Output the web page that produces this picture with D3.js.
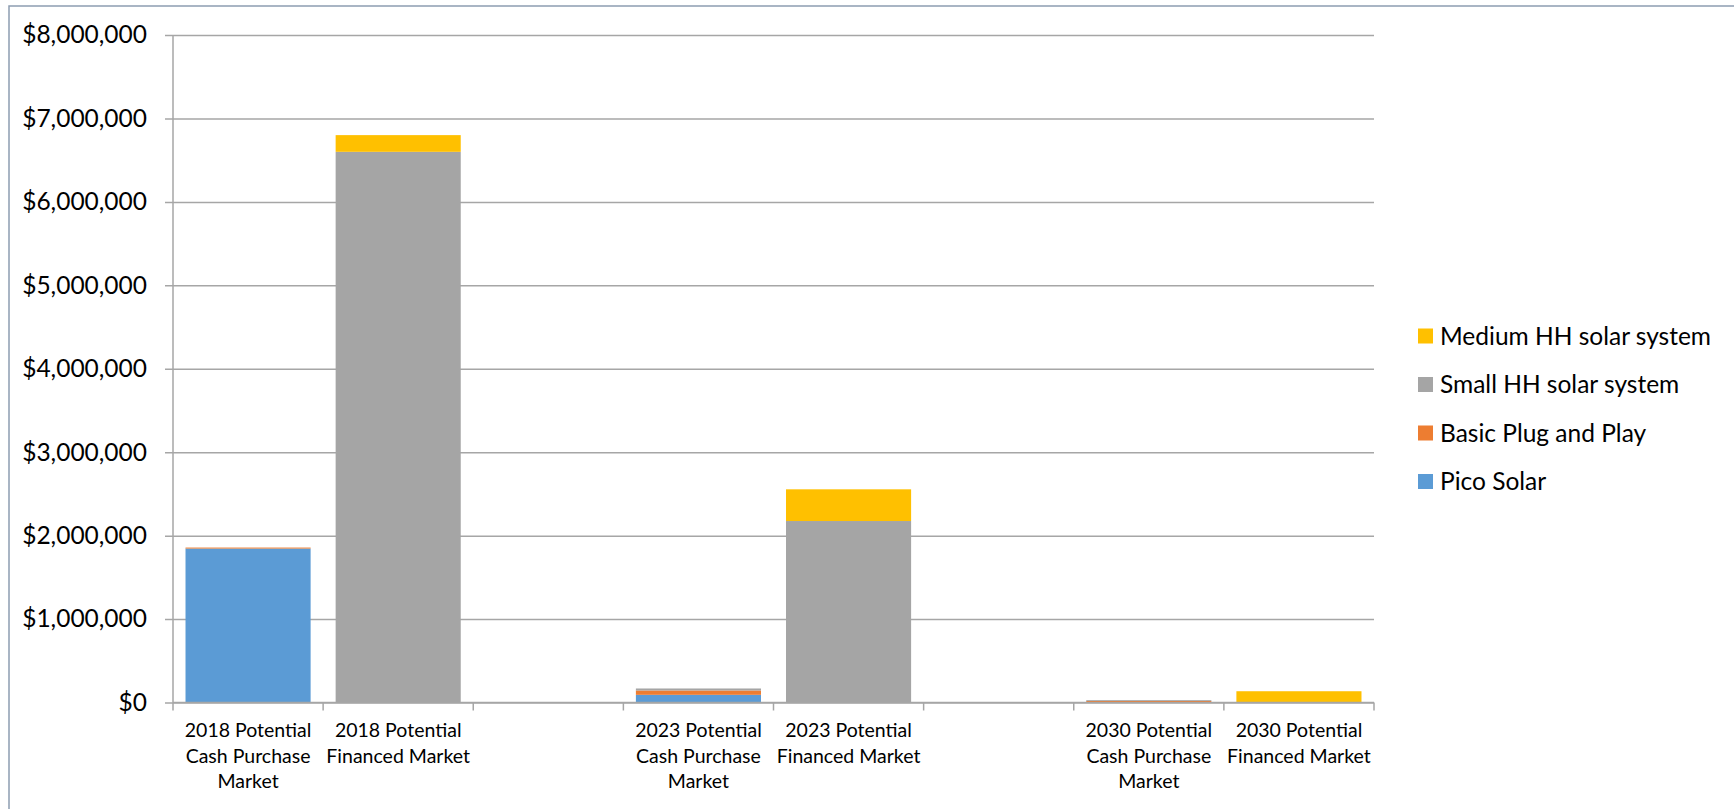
<!DOCTYPE html>
<html>
<head>
<meta charset="utf-8">
<script src="https://cdn.jsdelivr.net/npm/d3@7/dist/d3.min.js"></script>
<style>
  html, body { margin: 0; padding: 0; background: #ffffff; }
  svg { display: block; }
  text { font-family: Lato, "Open Sans", "Noto Sans", sans-serif; fill: #000; }
</style>
</head>
<body>
<svg id="chart" width="1734" height="809"></svg>
<script>
// Market categories (blank entries are spacer slots between years)
const categories = [
  "2018 Potential Cash Purchase Market",
  "2018 Potential Financed Market",
  "",
  "2023 Potential Cash Purchase Market",
  "2023 Potential Financed Market",
  "",
  "2030 Potential Cash Purchase Market",
  "2030 Potential Financed Market"
];
// Wrapped axis label lines per category
const categoryLines = [
  ["2018 Potential", "Cash Purchase", "Market"],
  ["2018 Potential", "Financed Market"],
  [],
  ["2023 Potential", "Cash Purchase", "Market"],
  ["2023 Potential", "Financed Market"],
  [],
  ["2030 Potential", "Cash Purchase", "Market"],
  ["2030 Potential", "Financed Market"]
];

// Market value (USD) per product tier
const picoSolar    = [1845000, 0,       0, 92000, 0,       0, 3000,  0];
const basicPlug    = [12000,   0,       0, 52000, 0,       0, 15000, 0];
const smallHH      = [0,       6600000, 0, 24000, 2175000, 0, 10000, 4000];
const mediumHH     = [0,       200000,  0, 0,     380000,  0, 0,     131000];

const seriesNames  = ["Pico Solar", "Basic Plug and Play", "Small HH solar system", "Medium HH solar system"];
const seriesColors = ["#5B9BD5", "#ED7D31", "#A5A5A5", "#FFC000"];

const yTicks = [0, 1000000, 2000000, 3000000, 4000000, 5000000, 6000000, 7000000, 8000000];

// Layout
const plotLeft = 173, plotRight = 1374, plotTop = 35, plotBottom = 702.5;
const gridColor = "#A6A6A6";

const svg = d3.select("#chart");

// Outer chart frame
svg.append("rect")
  .attr("x", 9).attr("y", 6)
  .attr("width", 1800).attr("height", 900)
  .attr("fill", "none")
  .attr("stroke", "#8D9DB1")
  .attr("stroke-width", 1.5);

const ids = categories.map((c, i) => "k" + i);
const x = d3.scaleBand().domain(ids).range([plotLeft, plotRight]).padding(0);
const y = d3.scaleLinear().domain([0, 8000000]).range([plotBottom, plotTop]);

// Gridlines + y tick labels
const yAxis = svg.append("g")
  .attr("transform", `translate(${plotLeft - 8},0)`)
  .call(d3.axisLeft(y)
    .tickValues(yTicks)
    .tickSize(-(plotRight - plotLeft + 8))
    .tickPadding(18)
    .tickFormat(d3.format("$,")));
yAxis.select(".domain").remove();
yAxis.selectAll(".tick line").attr("stroke", gridColor).attr("stroke-width", 1.5);
yAxis.selectAll(".tick text")
  .style("font-size", "24.5px")
  .attr("fill", "#000");

// Stacked bars
const rows = ids.map((id, i) => ({
  id,
  pico: picoSolar[i], basic: basicPlug[i], small: smallHH[i], medium: mediumHH[i]
}));
const keys = ["pico", "basic", "small", "medium"];
const stacked = d3.stack().keys(keys)(rows);

const barInset = x.bandwidth() * 12.5 / 150;
svg.append("g").selectAll("g")
  .data(stacked)
  .join("g")
  .attr("fill", (d, i) => seriesColors[i])
  .selectAll("rect")
  .data(d => d)
  .join("rect")
  .attr("x", d => x(d.data.id) + barInset)
  .attr("width", x.bandwidth() - 2 * barInset)
  .attr("y", d => y(d[1]))
  .attr("height", d => Math.max(0, y(d[0]) - y(d[1])));

// Vertical value axis line
svg.append("line")
  .attr("x1", plotLeft).attr("x2", plotLeft)
  .attr("y1", plotTop).attr("y2", plotBottom)
  .attr("stroke", gridColor).attr("stroke-width", 1.5);

// Category axis baseline and boundary ticks
svg.append("line")
  .attr("x1", plotLeft).attr("x2", plotRight)
  .attr("y1", plotBottom).attr("y2", plotBottom)
  .attr("stroke", gridColor).attr("stroke-width", 1.5);
const boundaries = ids.map(id => x(id)).concat([x.range()[1]]);
svg.append("g").selectAll("line")
  .data(boundaries)
  .join("line")
  .attr("x1", d => d).attr("x2", d => d)
  .attr("y1", plotBottom).attr("y2", plotBottom + 8)
  .attr("stroke", gridColor).attr("stroke-width", 1.5);

// Category labels
const xLabels = svg.append("g").selectAll("text")
  .data(ids)
  .join("text")
  .attr("x", d => x(d) + x.bandwidth() / 2)
  .attr("y", 737)
  .attr("text-anchor", "middle")
  .style("font-size", "19.5px");
xLabels.selectAll("tspan")
  .data((d, i) => categoryLines[i])
  .join("tspan")
  .attr("x", function() { return this.parentNode.getAttribute("x"); })
  .attr("dy", (d, i) => i === 0 ? 0 : 25.5)
  .text(d => d);

// Legend (top series first)
const legendOrder = [3, 2, 1, 0];
const legend = svg.append("g").selectAll("g")
  .data(legendOrder)
  .join("g")
  .attr("transform", (d, i) => `translate(1418, ${336 + i * 48.5})`);
legend.append("rect")
  .attr("x", 0).attr("y", -7.5)
  .attr("width", 15).attr("height", 15)
  .attr("fill", d => seriesColors[d]);
legend.append("text")
  .attr("x", 22).attr("y", 0)
  .attr("dy", "0.35em")
  .style("font-size", "24.5px")
  .text(d => seriesNames[d]);
</script>
</body>
</html>
